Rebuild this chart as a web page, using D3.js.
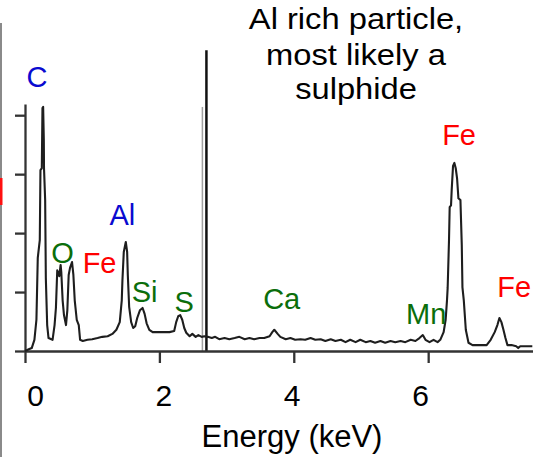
<!DOCTYPE html>
<html>
<head>
<meta charset="utf-8">
<script src="https://cdn.jsdelivr.net/npm/d3@7"></script>
<style>
  html, body { margin: 0; padding: 0; background: #fff; }
  svg { display: block; }
  text { font-family: Arial, "Liberation Sans", sans-serif; }
</style>
</head>
<body>
<svg id="chart" width="533" height="457"></svg>
<script>
// ---- data ----
const energy = [0.00,0.04,0.10,0.14,0.17,0.19,0.22,0.23,0.25,0.26,0.27,0.28,0.283,0.30,0.31,0.33,0.35,0.41,0.44,0.46,0.48,0.51,0.53,0.54,0.56,0.58,0.61,0.63,0.65,0.67,0.70,0.72,0.74,0.77,0.80,0.82,0.86,
  0.93,1.00,1.08,1.15,1.23,1.30,1.36,1.41,1.44,1.45,1.47,1.50,1.52,1.53,1.55,1.58,1.61,1.64,1.67,1.71,1.75,1.78,1.81,1.85,1.90,2.00,2.15,2.22,2.25,2.28,2.31,2.34,2.37,2.40,2.45,2.49,2.54,2.58,2.63,2.67,2.72,2.78,2.83,2.89,2.97,
  3.04,3.12,3.19,3.27,3.34,3.41,3.49,3.56,3.64,3.68,3.71,3.76,3.80,3.88,3.95,4.02,4.10,4.17,4.25,4.32,4.40,4.47,4.55,4.62,4.70,4.77,4.84,4.92,4.99,5.07,5.14,5.21,5.29,5.36,5.44,5.51,5.59,5.66,5.74,5.81,5.87,5.92,5.96,
  6.02,6.08,6.14,6.18,6.23,6.26,6.28,6.29,6.31,6.32,6.34,6.35,6.37,6.39,6.41,6.43,6.45,6.48,6.50,6.51,6.53,6.56,6.60,6.66,6.76,6.87,6.93,6.99,7.03,7.06,7.09,7.12,7.15,7.18,7.24,7.31,7.34,7.37,7.46,7.55];
const counts = [0.00,0.02,0.05,0.19,0.53,1.58,1.88,3.07,3.10,4.12,4.14,3.58,3.10,2.56,1.24,0.44,0.22,0.19,0.44,0.73,1.37,1.27,1.46,1.34,0.86,0.61,0.44,0.69,1.29,1.41,1.51,1.29,0.86,0.53,0.44,0.19,0.17,
  0.19,0.20,0.22,0.24,0.25,0.29,0.36,0.49,0.86,1.20,1.68,1.85,1.68,1.29,0.75,0.49,0.39,0.42,0.56,0.69,0.73,0.63,0.47,0.36,0.32,0.32,0.32,0.34,0.49,0.59,0.61,0.53,0.39,0.31,0.25,0.29,0.24,0.27,0.24,0.25,0.24,0.22,0.24,0.20,0.22,
  0.20,0.22,0.24,0.20,0.22,0.20,0.22,0.22,0.25,0.32,0.36,0.29,0.24,0.20,0.22,0.19,0.20,0.19,0.22,0.19,0.20,0.17,0.20,0.17,0.19,0.15,0.19,0.15,0.19,0.15,0.17,0.14,0.17,0.14,0.17,0.15,0.17,0.15,0.19,0.17,0.22,0.27,0.19,
  0.15,0.19,0.15,0.19,0.32,0.53,0.86,1.07,1.88,2.44,2.47,2.73,3.14,3.19,3.10,2.93,2.59,2.56,1.80,1.08,0.86,0.36,0.14,0.10,0.10,0.10,0.19,0.32,0.44,0.56,0.49,0.36,0.22,0.10,0.10,0.08,0.05,0.08,0.08,0.08];

const xTicks = [0, 2, 4, 6];
const yTicks = [0, 1, 2, 3, 4];

const titleLines = ["Al rich particle,", "most likely a", "sulphide"];
const xLabel = "Energy (keV)";

const peakNames    = ["C", "O", "Fe", "Al", "Si", "S", "Ca", "Mn", "Fe", "Fe"];
const peakEnergies = [0.18, 0.56, 1.11, 1.45, 1.78, 2.37, 3.82, 5.97, 6.46, 7.28];
const peakLevels   = [4.47, 1.49, 1.32, 2.14, 0.83, 0.66, 0.71, 0.46, 3.49, 0.92];
const peakGroups   = ["light", "other", "iron", "light", "other", "other", "other", "other", "iron", "iron"];

const markerEnergies = [2.64, 2.70];
const markerTops     = [4.14, 5.10];

// ---- layout ----
const svg = d3.select("#chart");
const W = 533, H = 457;
const x = d3.scaleLinear().domain([0, 7.56]).range([25, 533]);
const y = d3.scaleLinear().domain([0, 4.19]).range([351, 104]);
const xLab = d3.scaleLinear().domain([0, 6]).range([35, 420]);
const groupColor = d3.scaleOrdinal().domain(["light", "other", "iron"]).range(["#0a0ad0", "#0b6e0b", "#ff0000"]);

svg.append("rect").attr("width", W).attr("height", H).attr("fill", "#fff");

// cropped-edge artefacts on the left border
svg.append("line").attr("x1", 1).attr("x2", 1).attr("y1", 23).attr("y2", H)
  .attr("stroke", "#8a8a8a").attr("stroke-width", 2);
svg.append("rect").attr("x", 0).attr("y", 178).attr("width", 2.5).attr("height", 27).attr("fill", "#ff1010");

// marker lines
svg.selectAll(".marker").data(markerEnergies).join("line")
  .attr("class", "marker")
  .attr("x1", d => x(d)).attr("x2", d => x(d))
  .attr("y1", (d, i) => y(markerTops[i])).attr("y2", y(0))
  .attr("stroke", (d, i) => i === 0 ? "#a0a0a0" : "#111")
  .attr("stroke-width", (d, i) => i === 0 ? 1.5 : 2.5);

// axes
const gx = svg.append("g").attr("transform", `translate(0,${y(0)})`)
  .call(d3.axisBottom(x).tickValues(xTicks).tickSize(12).tickSizeOuter(0).tickFormat(""));
const gy = svg.append("g").attr("transform", `translate(${x(0)},0)`)
  .call(d3.axisLeft(y).tickValues(yTicks).tickSize(10).tickSizeOuter(0).tickFormat(""));
[gx, gy].forEach(g => {
  g.select(".domain").attr("stroke", "#333").attr("stroke-width", 2.3);
  g.selectAll(".tick line").attr("stroke", "#333").attr("stroke-width", 2.3);
});

// tick labels
const gl = svg.append("g").attr("transform", `translate(0,${y(0)})`)
  .call(d3.axisBottom(xLab).tickValues(xTicks).tickSize(0).tickPadding(34).tickFormat(d3.format("d")));
gl.select(".domain").remove();
gl.selectAll("text").attr("font-size", 30).attr("fill", "#000")
  .attr("font-family", "Arial, 'Liberation Sans', sans-serif");

// axis title
svg.append("text").attr("x", 292).attr("y", 447).attr("text-anchor", "middle")
  .attr("font-size", 31).attr("fill", "#000").text(xLabel);

// spectrum
const line = d3.line().x(d => x(d[0])).y(d => y(d[1]));
svg.append("path").datum(energy.map((e, i) => [e, counts[i]]))
  .attr("d", line).attr("fill", "none").attr("stroke", "#1e1e1e")
  .attr("stroke-width", 2.1).attr("stroke-linejoin", "round");

// element labels
svg.selectAll(".peak").data(peakNames).join("text")
  .attr("class", "peak")
  .attr("x", (d, i) => x(peakEnergies[i])).attr("y", (d, i) => y(peakLevels[i]))
  .attr("text-anchor", "middle").attr("font-size", 29)
  .attr("fill", (d, i) => groupColor(peakGroups[i]))
  .text(d => d);

// title (slightly wider lettering than the default face)
svg.append("g").attr("transform", "translate(356,0) scale(1.09,1)")
  .append("text").attr("text-anchor", "middle").attr("font-size", 30).attr("fill", "#000")
  .selectAll("tspan").data(titleLines).join("tspan")
  .attr("x", 0).attr("y", (d, i) => [29, 65, 99][i]).text(d => d);
</script>
</body>
</html>
